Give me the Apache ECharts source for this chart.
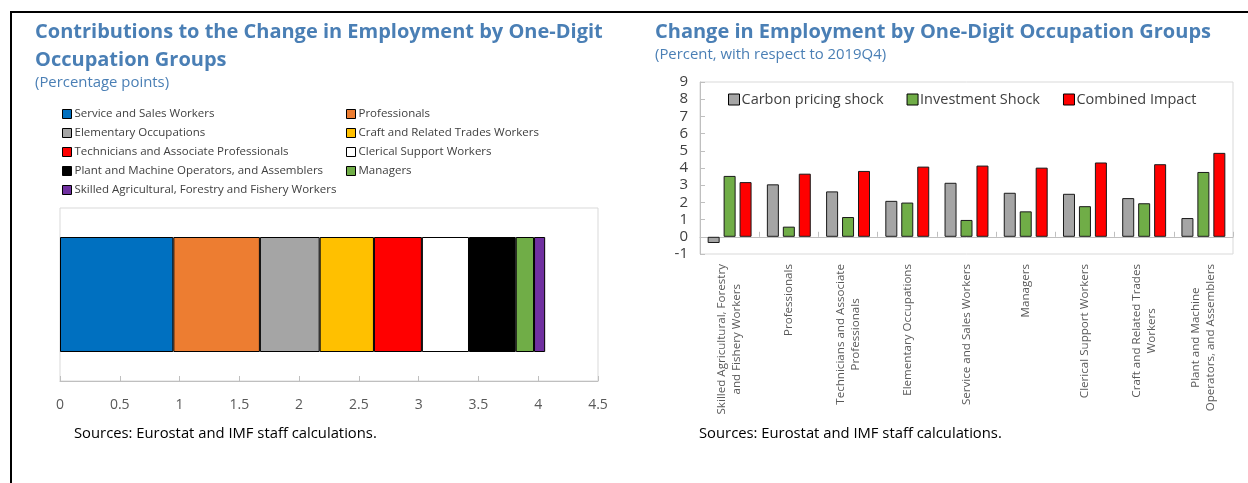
<!DOCTYPE html>
<html>
<head>
<meta charset="utf-8">
<script src="https://cdn.jsdelivr.net/npm/echarts@6/dist/echarts.min.js"></script>
<style>
html,body{margin:0;padding:0;background:#fff;}
#c{width:1248px;height:483px;}
</style>
</head>
<body>
<div id="c"></div>
<script>
// Left chart: contributions (percentage points)
const contribNames = [
  'Service and Sales Workers',
  'Professionals',
  'Elementary Occupations',
  'Craft and Related Trades Workers',
  'Technicians and Associate Professionals',
  'Clerical Support Workers',
  'Plant and Machine Operators, and Assemblers',
  'Managers',
  'Skilled Agricultural, Forestry and Fishery Workers'
];
const contribValues = [0.948, 0.724, 0.50, 0.454, 0.401, 0.394, 0.391, 0.153, 0.093];
const contribColors = ['#0070c0', '#ed7d31', '#a5a5a5', '#ffc000', '#ff0000', '#ffffff', '#000000', '#70ad47', '#7030a0'];
const contribTicks = [0, 0.5, 1, 1.5, 2, 2.5, 3, 3.5, 4, 4.5];

// Right chart: change in employment (percent, vs 2019Q4)
const occCategories = [
  'Skilled Agricultural, Forestry\nand Fishery Workers',
  'Professionals',
  'Technicians and Associate\nProfessionals',
  'Elementary Occupations',
  'Service and Sales Workers',
  'Managers',
  'Clerical Support Workers',
  'Craft and Related Trades\nWorkers',
  'Plant and Machine\nOperators, and Assemblers'
];
const carbonShock = [-0.36, 3.05, 2.64, 2.09, 3.14, 2.56, 2.50, 2.25, 1.09];
const investShock = [3.54, 0.59, 1.15, 1.99, 0.98, 1.48, 1.78, 1.95, 3.77];
const combined = [3.18, 3.67, 3.83, 4.08, 4.14, 4.02, 4.32, 4.22, 4.88];
const rightSeriesNames = ['Carbon pricing shock', 'Investment Shock', 'Combined Impact'];
const rightColors = ['#a5a5a5', '#70ad47', '#ff0000'];

const FONT = 'Open Sans';
const BLUE = '#4a7fb5';
const XLAB_SIZE = 11.6;
const chart = echarts.init(document.getElementById('c'), null, {renderer: 'canvas'});

// Centre the lines of each multi-line category label while its block stays right-aligned at the axis:
// each line gets a right padding of half the difference to the widest line.
const mctx = document.createElement('canvas').getContext('2d');
mctx.font = XLAB_SIZE + 'px "' + FONT + '"';
const xRich = {};
occCategories.forEach((c, i) => {
  const lines = c.split('\n');
  const ws = lines.map(l => mctx.measureText(l).width);
  const W = Math.max.apply(null, ws);
  lines.forEach((l, j) => {
    xRich['r' + i + '_' + j] = {fontFamily: FONT, fontSize: XLAB_SIZE, color: '#595959', lineHeight: 15,
      padding: [0, (W - ws[j]) / 2, 0, 0]};
  });
});

const leftSeries = contribNames.map((n, i) => ({
  name: n, type: 'bar', stack: 'total', xAxisIndex: 0, yAxisIndex: 0,
  barWidth: 115,
  itemStyle: {color: contribColors[i], borderColor: '#000', borderWidth: 1},
  data: [contribValues[i]]
}));
const rightData = [carbonShock, investShock, combined];
const rightSeries = rightSeriesNames.map((n, i) => ({
  name: n, type: 'bar', xAxisIndex: 1, yAxisIndex: 1,
  barWidth: 12, barGap: '33%',
  itemStyle: {color: rightColors[i], borderColor: '#1a1a1a', borderWidth: 1},
  data: rightData[i]
}));

const leftCol = contribNames.filter((_, i) => i % 2 === 0);
const rightCol = contribNames.filter((_, i) => i % 2 === 1);

const legendBase = {
  orient: 'vertical', selectedMode: false, icon: 'rect',
  itemWidth: 9, itemHeight: 9, itemGap: 5, padding: 0,
  itemStyle: {borderColor: '#000', borderWidth: 1},
  textStyle: {fontFamily: FONT, fontSize: 11.5, color: '#404040', lineHeight: 14, padding: [0, 0, 0, -2]}
};

chart.setOption({
  animation: false,
  textStyle: {fontFamily: FONT},
  title: [
    {text: 'Contributions to the Change in Employment by One-Digit\nOccupation Groups', left: 35, top: 18, padding: 0,
     textStyle: {fontFamily: FONT, fontSize: 20, fontWeight: 'bold', color: BLUE, lineHeight: 28}},
    {text: '(Percentage points)', left: 35, top: 74, padding: 0,
     textStyle: {fontFamily: FONT, fontSize: 14.9, fontWeight: 'normal', color: BLUE, lineHeight: 18}},
    {text: 'Change in Employment by One-Digit Occupation Groups', left: 655, top: 18, padding: 0,
     textStyle: {fontFamily: FONT, fontSize: 20, fontWeight: 'bold', color: BLUE, lineHeight: 28}},
    {text: '(Percent, with respect to 2019Q4)', left: 655, top: 46, padding: 0,
     textStyle: {fontFamily: FONT, fontSize: 14.9, fontWeight: 'normal', color: BLUE, lineHeight: 18}},
    {text: 'Sources: Eurostat and IMF staff calculations.', left: 74, top: 425, padding: 0,
     textStyle: {fontFamily: FONT, fontSize: 14.8, fontWeight: 'normal', color: '#000', lineHeight: 18}},
    {text: 'Sources: Eurostat and IMF staff calculations.', left: 699, top: 425, padding: 0,
     textStyle: {fontFamily: FONT, fontSize: 14.8, fontWeight: 'normal', color: '#000', lineHeight: 18}}
  ],
  legend: [
    Object.assign({}, legendBase, {data: leftCol, left: 62, top: 107}),
    Object.assign({}, legendBase, {data: rightCol, left: 346, top: 107}),
    {data: rightSeriesNames, orient: 'horizontal', selectedMode: false, icon: 'rect',
     left: 728, top: 92, padding: 0, itemWidth: 11, itemHeight: 11, itemGap: 23,
     itemStyle: {borderColor: '#000', borderWidth: 1},
     textStyle: {fontFamily: FONT, fontSize: 14.5, color: '#404040', padding: [0, 0, 0, -3]}}
  ],
  grid: [
    {left: 60, top: 208, width: 538, height: 173, show: true, borderColor: '#d9d9d9', borderWidth: 1,
     containLabel: false, outerBoundsMode: 'none'},
    {left: 700, top: 82, width: 533, height: 172, show: true, borderColor: '#d9d9d9', borderWidth: 1,
     containLabel: false, outerBoundsMode: 'none'}
  ],
  xAxis: [
    {type: 'value', gridIndex: 0, min: contribTicks[0], max: contribTicks[contribTicks.length - 1], interval: 0.5,
     axisLine: {show: true, lineStyle: {color: '#bfbfbf'}},
     axisTick: {show: true, inside: true, length: 5, lineStyle: {color: '#bfbfbf'}},
     splitLine: {show: false},
     axisLabel: {fontFamily: FONT, fontSize: 14, color: '#595959', margin: 17}},
    {type: 'category', gridIndex: 1, data: occCategories,
     axisLine: {show: true, onZero: true, lineStyle: {color: '#bfbfbf'}},
     axisTick: {show: true, inside: true, length: 5, lineStyle: {color: '#bfbfbf'}},
     axisLabel: {rotate: 90, interval: 0, margin: 10, hideOverlap: false,
       fontFamily: FONT, fontSize: XLAB_SIZE, color: '#595959', lineHeight: 15,
       formatter: (v, idx) => {
         const i = occCategories.indexOf(v);
         return v.split('\n').map((l, j) => '{r' + i + '_' + j + '|' + l + '}').join('\n');
       },
       rich: xRich}}
  ],
  yAxis: [
    {type: 'category', gridIndex: 0, data: ['Total'],
     axisLine: {show: false}, axisTick: {show: false}, axisLabel: {show: false}},
    {type: 'value', gridIndex: 1, min: -1, max: 9, interval: 1,
     axisLine: {show: true, lineStyle: {color: '#bfbfbf'}},
     axisTick: {show: true, inside: true, length: 5, lineStyle: {color: '#bfbfbf'}},
     splitLine: {show: false},
     axisLabel: {fontFamily: FONT, fontSize: 15, color: '#404040', margin: 12}}
  ],
  graphic: [
    {type: 'line', shape: {x1: 10, y1: 12, x2: 1248, y2: 12}, style: {stroke: '#000', lineWidth: 2}},
    {type: 'line', shape: {x1: 11, y1: 12, x2: 11, y2: 483}, style: {stroke: '#000', lineWidth: 2}}
  ],
  series: leftSeries.concat(rightSeries)
});
</script>
</body>
</html>
